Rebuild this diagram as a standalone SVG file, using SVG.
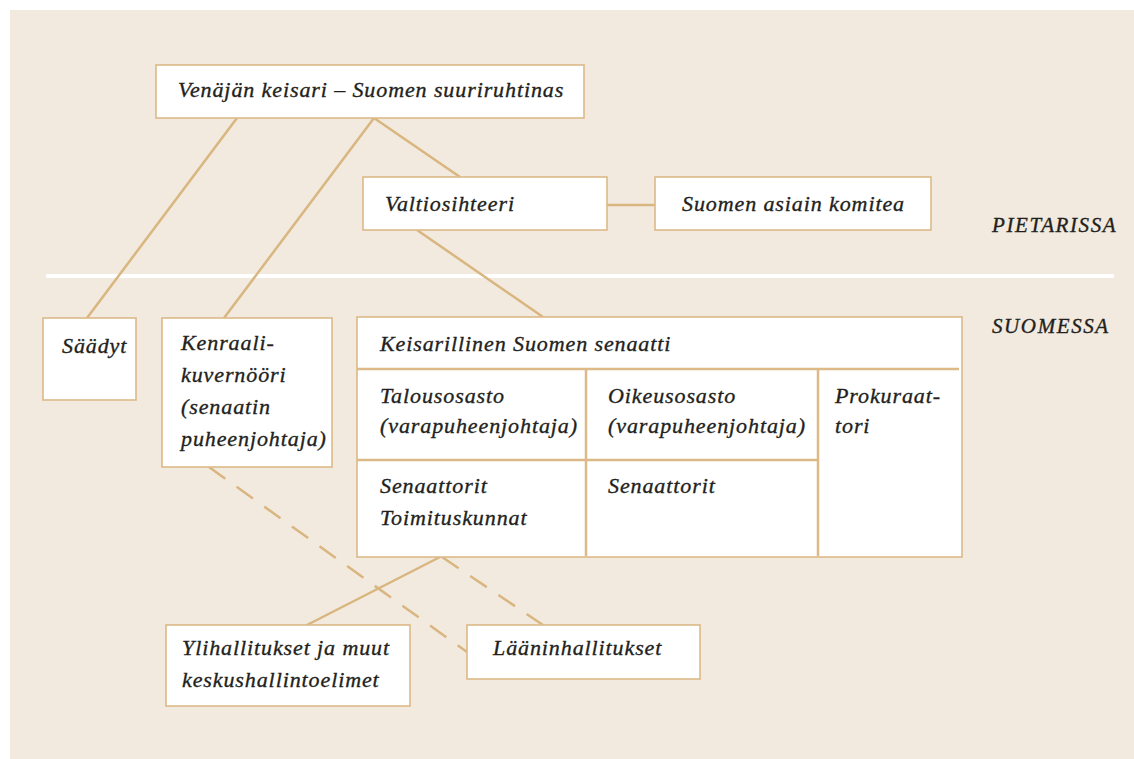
<svg xmlns="http://www.w3.org/2000/svg" width="1134" height="759" viewBox="0 0 1134 759">
<style>
.bg{fill:#f2eade}
.box{fill:#ffffff;stroke:#dcb987;stroke-width:1.6}
.div{stroke:#dcb987;stroke-width:2.5;fill:none}
.ln{stroke:#d9b680;stroke-width:2.5;fill:none}
.dash{stroke:#d9b680;stroke-width:2.5;fill:none;stroke-dasharray:20 14}
text{font-family:"Liberation Serif","DejaVu Serif",serif;font-style:italic;font-size:22px;fill:#231f20;stroke:#231f20;stroke-width:0.35;letter-spacing:0.9px}
.lbl{font-size:21px;letter-spacing:1.6px}
</style>
<rect class="bg" x="10" y="10" width="1124" height="749"/>
<rect x="46" y="274" width="1068" height="4" fill="#ffffff"/>
<g id="connectors">
<line class="ln" x1="237" y1="118" x2="87" y2="318"/>
<line class="ln" x1="374" y1="118" x2="224" y2="318"/>
<line class="ln" x1="374" y1="118" x2="460" y2="177"/>
<line class="ln" x1="417" y1="230" x2="543" y2="317"/>
<line class="ln" x1="607" y1="205" x2="655" y2="205"/>
<line class="ln" x1="440" y1="557" x2="307" y2="625"/>
<line class="dash" x1="209" y1="467" x2="467" y2="652"/>
<line class="dash" x1="442" y1="557" x2="543" y2="625"/>
</g>
<g id="keisari">
<rect class="box" x="156" y="65" width="428" height="53"/>
<text x="178" y="97">Venäjän keisari – Suomen suuriruhtinas</text>
</g>
<g id="valtiosihteeri">
<rect class="box" x="363" y="177" width="244" height="53"/>
<text x="385" y="211">Valtiosihteeri</text>
</g>
<g id="komitea">
<rect class="box" x="655" y="177" width="276" height="53"/>
<text x="682" y="211">Suomen asiain komitea</text>
</g>
<g id="pietarissa"><text class="lbl" x="992" y="232">PIETARISSA</text></g>
<g id="suomessa"><text class="lbl" x="992" y="333">SUOMESSA</text></g>
<g id="saadyt">
<rect class="box" x="43" y="318" width="93" height="82"/>
<text x="62" y="353">Säädyt</text>
</g>
<g id="kenraali">
<rect class="box" x="162" y="318" width="170" height="149"/>
<text x="181" y="350">Kenraali-</text>
<text x="181" y="382">kuvernööri</text>
<text x="181" y="414">(senaatin</text>
<text x="181" y="446">puheenjohtaja)</text>
</g>
<g id="senaatti">
<rect class="box" x="357" y="317" width="605" height="240"/>
<line class="div" x1="357" y1="369" x2="959" y2="369"/>
<line class="div" x1="357" y1="460" x2="818" y2="460"/>
<line class="div" x1="586" y1="369" x2="586" y2="556"/>
<line class="div" x1="818" y1="369" x2="818" y2="556"/>
<text x="380" y="351">Keisarillinen Suomen senaatti</text>
<text x="380" y="403">Talousosasto</text>
<text x="380" y="433">(varapuheenjohtaja)</text>
<text x="608" y="403">Oikeusosasto</text>
<text x="608" y="433">(varapuheenjohtaja)</text>
<text x="835" y="403">Prokuraat-</text>
<text x="835" y="433">tori</text>
<text x="380" y="493">Senaattorit</text>
<text x="380" y="525">Toimituskunnat</text>
<text x="608" y="493">Senaattorit</text>
</g>
<g id="ylihallitukset">
<rect class="box" x="166" y="625" width="244" height="81"/>
<text x="182" y="655">Ylihallitukset ja muut</text>
<text x="182" y="687">keskushallintoelimet</text>
</g>
<g id="laaninhallitukset">
<rect class="box" x="467" y="625" width="233" height="54"/>
<text x="493" y="655">Lääninhallitukset</text>
</g>
</svg>
